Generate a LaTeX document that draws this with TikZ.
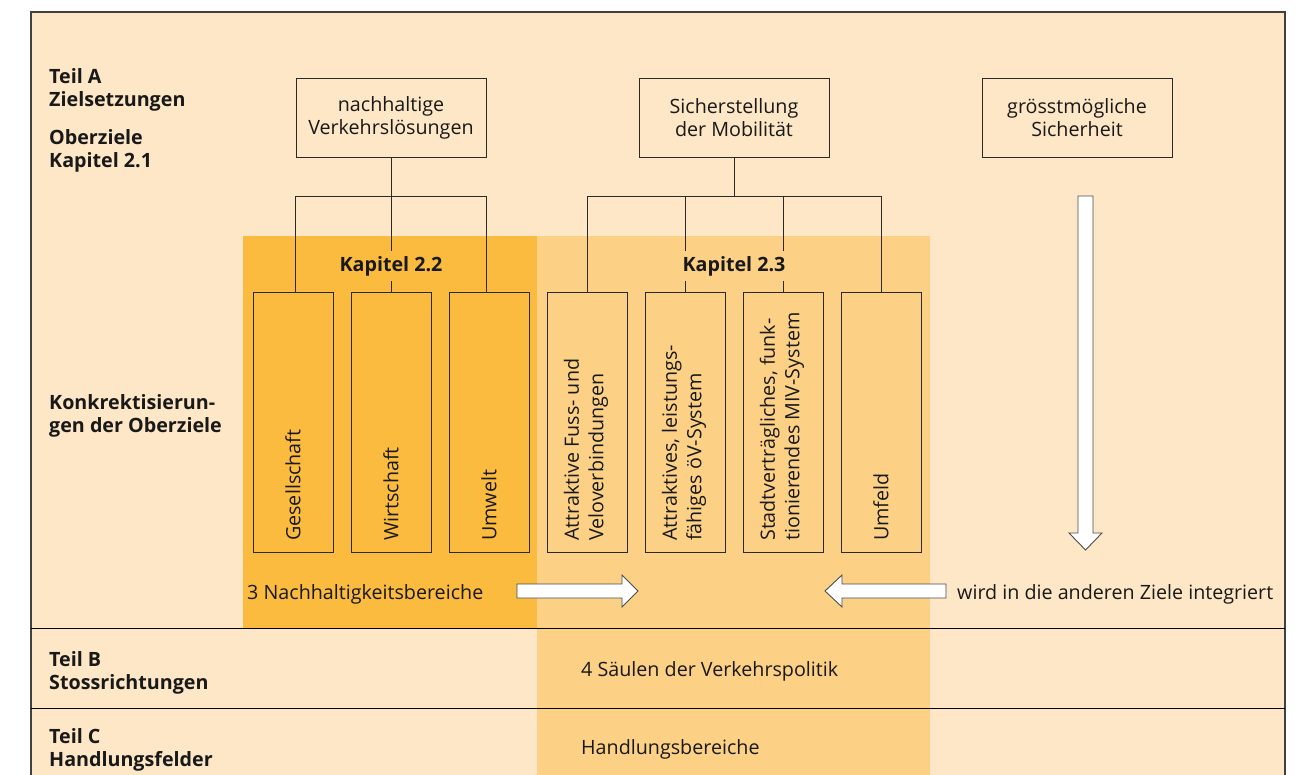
\documentclass[tikz,border=0pt]{standalone}
\usepackage{fontspec}
\setmainfont{Open Sans}
\definecolor{cream}{HTML}{FDE7C6}
\definecolor{darkor}{HTML}{FBBB3F}
\definecolor{lightor}{HTML}{FCD186}
\definecolor{linec}{HTML}{2A2A2A}
\begin{document}
\begin{tikzpicture}[x=1pt,y=-1pt,
  txt/.style={font=\fontsize{19.7}{23}\selectfont, inner sep=0pt, text=black!90},
  bold/.style={txt, font=\fontsize{19.7}{23}\selectfont\bfseries},
  topbox/.style={draw=linec, line width=0.9pt, minimum width=190pt, minimum height=79pt, align=center, txt},
  colbox/.style={draw=linec, line width=0.9pt, minimum width=80pt, minimum height=260pt},
  coltext/.style={txt, font=\fontsize{19.7}{24.5}\selectfont, rotate=90, anchor=west, align=left},
  conn/.style={draw=linec, line width=0.8pt},
  bigarrow/.style={fill=white, draw=black!70, line width=0.9pt},
  sep/.style={draw=black, line width=1pt}]
\useasboundingbox (0,0) rectangle (1303,775);
% background regions
\fill[cream] (31,12) rectangle (1285,775);
\fill[darkor] (243,236) rectangle (537,628);
\fill[lightor] (537,236) rectangle (930,775);
\draw[draw=black!75, line width=1.4pt] (31,775) -- (31,12) -- (1285,12) -- (1285,775);
\draw[sep] (31,628) -- (1285,628);
\draw[sep] (31,708) -- (1285,708);
% left labels (base = baseline of last line)
\node[bold, anchor=base west, align=left] (ta) at (49,107) {Teil A\\Zielsetzungen};
\node[bold, anchor=base west, align=left] (ob) at (49,168) {Oberziele\\Kapitel 2.1};
\node[bold, anchor=base west, align=left] (ko) at (49,432) {Konkrektisierun-\\gen der Oberziele};
\node[bold, anchor=base west, align=left] (tb) at (49,689) {Teil B\\Stossrichtungen};
\node[bold, anchor=base west, align=left] (tc) at (49,766) {Teil C\\Handlungsfelder};
% top boxes
\node[topbox] (n1) at (391,117.5) {nachhaltige\\Verkehrslösungen};
\node[topbox] (n2) at (734,117.5) {Sicherstellung\\der Mobilität};
\node[topbox] (n3) at (1077,117.5) {grösstmögliche\\Sicherheit};
% column boxes
\node[colbox] (c1) at (293,422) {};
\node[colbox] (c2) at (391,422) {};
\node[colbox] (c3) at (489,422) {};
\node[colbox] (c4) at (587,422) {};
\node[colbox] (c5) at (685,422) {};
\node[colbox] (c6) at (783,422) {};
\node[colbox] (c7) at (881,422) {};
\node[coltext] (t1) at (293,541) {Gesellschaft};
\node[coltext] (t2) at (391,541) {Wirtschaft};
\node[coltext] (t3) at (489,541) {Umwelt};
\node[coltext] (t4) at (586,541) {Attraktive Fuss- und\\Veloverbindungen};
\node[coltext] (t5) at (684,541) {Attraktives, leistungs-\\fähiges öV-System};
\node[coltext] (t6) at (782,541) {Stadtverträgliches, funk-\\tionierendes MIV-System};
\node[coltext] (t7) at (881,541) {Umfeld};
% connectors group 1
\coordinate (b1) at (391,196);
\coordinate (b2) at (734,196);
\draw[conn] (n1.south) -- (b1);
\draw[conn] (n1.south west |- c1.north) -- (n1.south west |- b1) -- (n1.south east |- b1) -- (n1.south east |- c3.north);
\draw[conn] (b1) -- (c2.north);
% connectors group 2
\draw[conn] (n2.south) -- (b2);
\draw[conn] (c4.north) -- (c4.north |- b2) -- (c7.north |- b2) -- (c7.north);
\draw[conn] (c5.north |- b2) -- (c5.north);
\draw[conn] (c6.north |- b2) -- (c6.north);
% chapter labels
\node[bold, fill=darkor, inner xsep=1pt, inner ysep=5pt] (k22) at (391,266) {Kapitel 2.2};
\node[bold, fill=lightor, inner xsep=1pt, inner ysep=5pt] (k23) at (734,266) {Kapitel 2.3};
% big arrows
\draw[bigarrow] (1078,196) -- (1093,196) -- (1093,533) -- (1102,533) -- (1085.5,550) -- (1069,533) -- (1078,533) -- cycle;
\draw[bigarrow] (517,584) -- (622,584) -- (622,575) -- (638,591) -- (622,607) -- (622,598) -- (517,598) -- cycle;
\draw[bigarrow] (946,584) -- (842,584) -- (842,575) -- (825,591) -- (842,607) -- (842,598) -- (946,598) -- cycle;
% other texts
\node[txt, anchor=base west] (nb) at (247,599) {3 Nachhaltigkeitsbereiche};
\node[txt, anchor=base west] (wi) at (957,599) {wird in die anderen Ziele integriert};
\node[txt, anchor=base west] (vs) at (581,676) {4 Säulen der Verkehrspolitik};
\node[txt, anchor=base west] (hb) at (581,754) {Handlungsbereiche};
\end{tikzpicture}
\end{document}
